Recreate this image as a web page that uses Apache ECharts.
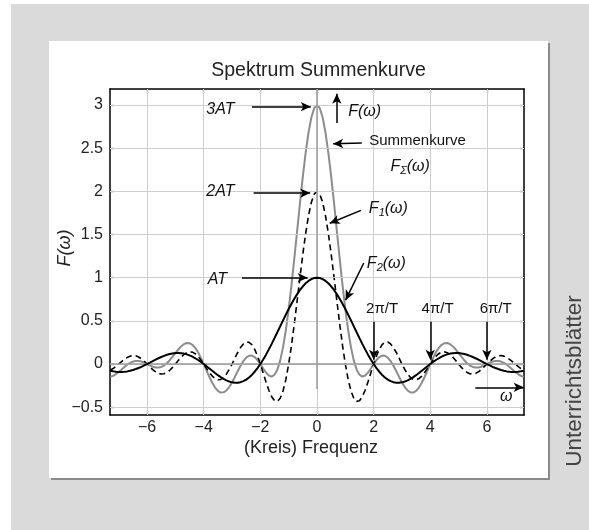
<!DOCTYPE html>
<html>
<head>
<meta charset="utf-8">
<script src="https://cdn.jsdelivr.net/npm/echarts@6/dist/echarts.min.js"></script>
<style>
html,body{margin:0;padding:0;background:#fff;}
#bg{position:absolute;left:11px;top:4px;width:578px;height:526px;background:#dadada;}
#panel{position:absolute;left:49px;top:41px;width:499px;height:437px;background:#fff;box-shadow:2px 2px 0 #8a8a8a;}
#chart{position:absolute;left:0;top:0;width:589px;height:530px;}
</style>
</head>
<body>
<div id="bg"></div>
<div id="panel"></div>
<div id="chart"></div>
<script>
// ---- data ----
const omega = [-7.3,-7.2,-7.1,-7,-6.9,-6.8,-6.7,-6.6,-6.5,-6.4,-6.3,-6.2,-6.1,-6,-5.9,-5.8,-5.7,-5.6,-5.5,-5.4,-5.3,-5.2,-5.1,-5,-4.9,-4.8,-4.7,-4.6,-4.5,-4.4,-4.3,-4.2,-4.1,-4,-3.9,-3.8,-3.7,-3.6,-3.5,-3.4,-3.3,-3.2,-3.1,-3,-2.9,-2.8,-2.7,-2.6,-2.5,-2.4,-2.3,-2.2,-2.1,-2,-1.9,-1.8,-1.7,-1.6,-1.5,-1.4,-1.3,-1.2,-1.1,-1,-0.9,-0.8,-0.7,-0.6,-0.5,-0.4,-0.3,-0.2,-0.1,0,0.1,0.2,0.3,0.4,0.5,0.6,0.7,0.8,0.9,1,1.1,1.2,1.3,1.4,1.5,1.6,1.7,1.8,1.9,2,2.1,2.2,2.3,2.4,2.5,2.6,2.7,2.8,2.9,3,3.1,3.2,3.3,3.4,3.5,3.6,3.7,3.8,3.9,4,4.1,4.2,4.3,4.4,4.5,4.6,4.7,4.8,4.9,5,5.1,5.2,5.3,5.4,5.5,5.6,5.7,5.8,5.9,6,6.1,6.2,6.3,6.4,6.5,6.6,6.7,6.8,6.9,7,7.1,7.2,7.3];

const f2 = [-0.078,-0.084,-0.089,-0.091,-0.091,-0.089,-0.085,-0.078,-0.069,-0.058,-0.046,-0.032,-0.016,0,0.017,0.034,0.051,0.067,0.082,0.095,0.107,0.116,0.123,0.127,0.128,0.126,0.121,0.112,0.100,0.085,0.067,0.047,0.024,0,-0.026,-0.052,-0.078,-0.104,-0.129,-0.151,-0.172,-0.189,-0.203,-0.212,-0.217,-0.216,-0.210,-0.198,-0.180,-0.156,-0.126,-0.089,-0.047,0,0.052,0.109,0.170,0.234,0.300,0.368,0.436,0.505,0.572,0.637,0.699,0.757,0.810,0.858,0.900,0.935,0.963,0.984,0.996,
1.000,
0.996,0.984,0.963,0.935,0.900,0.858,0.810,0.757,0.699,0.637,0.572,0.505,0.436,0.368,0.300,0.234,0.170,0.109,0.052,0,-0.047,-0.089,-0.126,-0.156,-0.180,-0.198,-0.210,-0.216,-0.217,-0.212,-0.203,-0.189,-0.172,-0.151,-0.129,-0.104,-0.078,-0.052,-0.026,0,0.024,0.047,0.067,0.085,0.100,0.112,0.121,0.126,0.128,0.127,0.123,0.116,0.107,0.095,0.082,0.067,0.051,0.034,0.017,0,-0.016,-0.032,-0.046,-0.058,-0.069,-0.078,-0.085,-0.089,-0.091,-0.091,-0.089,-0.084,-0.078];

const f1 = [-0.071,-0.052,-0.028,0,0.029,0.055,0.077,0.092,0.098,0.095,0.082,0.060,0.032,0,-0.033,-0.065,-0.090,-0.108,-0.116,-0.112,-0.097,-0.072,-0.039,0,0.040,0.078,0.110,0.132,0.141,0.138,0.120,0.089,0.048,0,-0.050,-0.098,-0.139,-0.168,-0.182,-0.178,-0.156,-0.117,-0.063,0,0.068,0.134,0.191,0.233,0.255,0.252,0.224,0.170,0.094,0,-0.104,-0.208,-0.303,-0.378,-0.424,-0.432,-0.396,-0.312,-0.179,0,0.219,0.468,0.736,1.009,1.273,1.514,1.717,1.871,1.967,
2.000,
1.967,1.871,1.717,1.514,1.273,1.009,0.736,0.468,0.219,0,-0.179,-0.312,-0.396,-0.432,-0.424,-0.378,-0.303,-0.208,-0.104,0,0.094,0.170,0.224,0.252,0.255,0.233,0.191,0.134,0.068,0,-0.063,-0.117,-0.156,-0.178,-0.182,-0.168,-0.139,-0.098,-0.050,0,0.048,0.089,0.120,0.138,0.141,0.132,0.110,0.078,0.040,0,-0.039,-0.072,-0.097,-0.112,-0.116,-0.108,-0.090,-0.065,-0.033,0,0.032,0.060,0.082,0.095,0.098,0.092,0.077,0.055,0.029,0,-0.028,-0.052,-0.071];

const fSum = [-0.148,-0.136,-0.116,-0.091,-0.063,-0.034,-0.008,0.014,0.029,0.036,0.036,0.029,0.016,0,-0.016,-0.031,-0.040,-0.041,-0.034,-0.017,0.010,0.044,0.085,0.127,0.168,0.204,0.230,0.244,0.241,0.223,0.187,0.136,0.072,0,-0.076,-0.150,-0.217,-0.272,-0.311,-0.330,-0.328,-0.306,-0.266,-0.212,-0.149,-0.083,-0.019,0.035,0.075,0.096,0.098,0.081,0.046,0,-0.051,-0.099,-0.133,-0.145,-0.124,-0.065,0.040,0.193,0.393,0.637,0.917,1.225,1.546,1.868,2.174,2.449,2.680,2.855,2.963,
3.000,
2.963,2.855,2.680,2.449,2.174,1.868,1.546,1.225,0.917,0.637,0.393,0.193,0.040,-0.065,-0.124,-0.145,-0.133,-0.099,-0.051,0,0.046,0.081,0.098,0.096,0.075,0.035,-0.019,-0.083,-0.149,-0.212,-0.266,-0.306,-0.328,-0.330,-0.311,-0.272,-0.217,-0.150,-0.076,0,0.072,0.136,0.187,0.223,0.241,0.244,0.230,0.204,0.168,0.127,0.085,0.044,0.010,-0.017,-0.034,-0.041,-0.040,-0.031,-0.016,0,0.016,0.029,0.036,0.036,0.029,0.014,-0.008,-0.034,-0.063,-0.091,-0.116,-0.136,-0.148];

const xTicks = [-6,-4,-2,0,2,4,6];
const yTicks = [-0.5,0,0.5,1,1.5,2,2.5,3];
const zeroMarks = [2,4,6];

const titleText = 'Spektrum Summenkurve';
const xName = '(Kreis) Frequenz';
const yName = 'F(\u03c9)';
const sideText = 'Unterrichtsbl\u00e4tter';

// ---- chart ----
const FONT = 'Liberation Sans';
const X_MIN = -7.31, X_MAX = 7.31, Y_MIN = -0.59, Y_MAX = 3.185;
const pairs = (ys) => omega.map((x, i) => [x, ys[i]]);
const fmt = (v) => (v < 0 ? '\u2212' + String(-v) : String(v));

function axisX(pos, labels) {
  return {
    type: 'value', position: pos, min: X_MIN, max: X_MAX,
    axisLine: { show: true, onZero: false, lineStyle: { color: '#000', width: 1.5 } },
    axisTick: { show: true, inside: true, length: 4, customValues: xTicks, lineStyle: { color: '#000', width: 1.2 } },
    axisLabel: { show: labels, customValues: xTicks, formatter: fmt, fontFamily: FONT, fontSize: 16, color: '#222', margin: 5 },
    splitLine: { show: false }
  };
}
function axisY(pos, labels) {
  return {
    type: 'value', position: pos, min: Y_MIN, max: Y_MAX,
    axisLine: { show: true, onZero: false, lineStyle: { color: '#000', width: 1.5 } },
    axisTick: { show: true, inside: true, length: 4, customValues: yTicks, lineStyle: { color: '#000', width: 1.2 } },
    axisLabel: { show: labels, customValues: yTicks, formatter: fmt, fontFamily: FONT, fontSize: 16, color: '#222', margin: 7 },
    splitLine: { show: false }
  };
}

const gridLines = [];
xTicks.forEach(v => gridLines.push({ xAxis: v }));
yTicks.forEach(v => gridLines.push({ yAxis: v }));

const arrow = (a, b) => [{ coord: a }, { coord: b }];
const arrows = [
  arrow([-2.30, 2.98], [-0.22, 2.98]),
  arrow([0.70, 2.79], [0.70, 3.13]),
  arrow([1.58, 2.56], [0.57, 2.55]),
  arrow([-2.24, 1.98], [-0.24, 1.98]),
  arrow([1.55, 1.78], [0.45, 1.63]),
  arrow([1.65, 1.17], [1.01, 0.74]),
  arrow([-2.65, 1.0], [-0.33, 1.0]),
  arrow([5.59, -0.27], [7.30, -0.27])
];
zeroMarks.forEach(v => arrows.push(arrow([v, 0.49], [v, 0.05])));

const it = { fontStyle: 'italic', fontSize: 16, fontFamily: FONT, color: '#111' };
const sub = { fontStyle: 'italic', fontSize: 11, fontFamily: FONT, color: '#111', padding: [9, 0, 0, 0] };
const up = { fontSize: 15, fontFamily: FONT, color: '#111' };
const lbl = (x, y, text) => ({ coord: [x, y], value: text });
const labels = [
  lbl(-3.41, 2.95, '{i|3AT}'),
  lbl(1.68, 2.92, '{i|F(\u03c9)}'),
  lbl(3.55, 2.58, '{u|Summenkurve}'),
  lbl(3.29, 2.29, '{i|F}{s|\u03a3}{i|(\u03c9)}'),
  lbl(-3.41, 2.00, '{i|2AT}'),
  lbl(2.52, 1.80, '{i|F}{s|1}{i|(\u03c9)}'),
  lbl(2.45, 1.16, '{i|F}{s|2}{i|(\u03c9)}'),
  lbl(-3.52, 0.98, '{i|AT}'),
  lbl(2.30, 0.64, '{u|2\u03c0/T}'),
  lbl(4.26, 0.64, '{u|4\u03c0/T}'),
  lbl(6.31, 0.64, '{u|6\u03c0/T}'),
  lbl(6.68, -0.38, '{i|\u03c9}')
];

const chart = echarts.init(document.getElementById('chart'), null, { renderer: 'canvas' });
chart.setOption({
  animation: false,
  backgroundColor: 'transparent',
  grid: { left: 110, right: 65, top: 89, bottom: 115, containLabel: false },
  xAxis: [axisX('bottom', true), axisX('top', false)],
  yAxis: [axisY('left', true), axisY('right', false)],
  graphic: [
    { type: 'text', x: 318.5, y: 70.5, style: { text: titleText, font: '19.5px "Liberation Sans"', fill: '#222', align: 'center', verticalAlign: 'middle' } },
    { type: 'text', x: 311, y: 448, style: { text: xName, font: '18px "Liberation Sans"', fill: '#222', align: 'center', verticalAlign: 'middle' } },
    { type: 'text', x: 65, y: 248, rotation: Math.PI / 2, style: { text: yName, font: 'italic 18px "Liberation Sans"', fill: '#222', align: 'center', verticalAlign: 'middle' } },
    { type: 'text', x: 575, y: 381, rotation: Math.PI / 2, style: { text: sideText, font: '22.5px "Liberation Sans"', fill: '#444', align: 'center', verticalAlign: 'middle' } }
  ],
  series: [
    {
      type: 'line', data: [], z: 1, silent: true,
      markLine: { silent: true, symbol: 'none', label: { show: false }, lineStyle: { color: '#cdcdcd', width: 1, type: 'solid' }, data: gridLines, animation: false }
    },
    {
      type: 'line', data: [], z: 2, silent: true,
      markLine: { silent: true, symbol: 'none', label: { show: false }, lineStyle: { color: '#9a9a9a', width: 1.5, type: 'solid' },
        data: [{ yAxis: 0 }, [{ coord: [0, Y_MAX] }, { coord: [0, -0.29] }]], animation: false }
    },
    { name: 'Summenkurve', type: 'line', data: pairs(fSum), showSymbol: false, z: 3, lineStyle: { color: '#8c8c8c', width: 2 } },
    { name: 'F1', type: 'line', data: pairs(f1), showSymbol: false, z: 4, lineStyle: { color: '#000', width: 1.6, type: [6, 4] } },
    { name: 'F2', type: 'line', data: pairs(f2), showSymbol: false, z: 5, lineStyle: { color: '#000', width: 2 } },
    {
      type: 'line', data: [], z: 6, silent: true,
      markLine: { silent: true, symbol: ['none', 'arrow'], symbolSize: [7, 10], label: { show: false }, lineStyle: { color: '#000', width: 1.5, type: 'solid' }, data: arrows, animation: false },
      markPoint: { silent: true, symbol: 'circle', symbolSize: 0, itemStyle: { color: 'transparent' },
        label: { show: true, position: 'inside', formatter: p => p.value, rich: { i: it, s: sub, u: up } },
        data: labels, animation: false }
    }
  ]
});
</script>
</body>
</html>
